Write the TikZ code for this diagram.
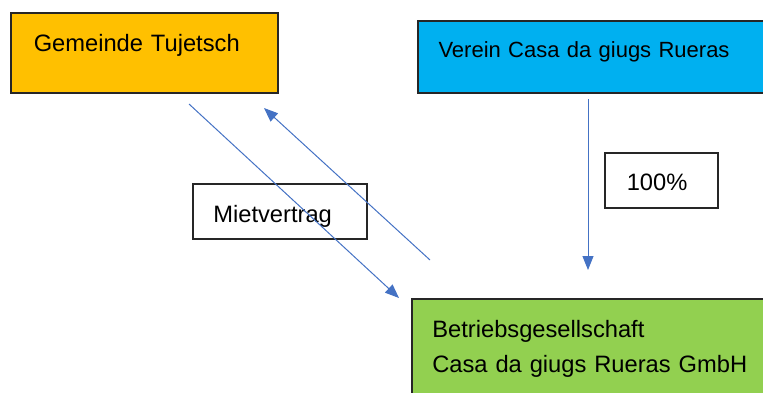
\documentclass[tikz,border=0pt]{standalone}
\usepackage{fontspec}
\setmainfont{Liberation Sans}
\usetikzlibrary{arrows.meta}
\definecolor{orangebox}{HTML}{FFC000}
\definecolor{bluebox}{HTML}{00B0F0}
\definecolor{greenbox}{HTML}{92D050}
\definecolor{arrowblue}{HTML}{4472C4}
\begin{document}
\begin{tikzpicture}[x=1pt,y=-1pt,
		box/.style={draw=black!85,line width=1.5pt,anchor=north west,align=left,inner ysep=0pt,font=\fontsize{23.7}{35}\selectfont},
		pfeil/.style={arrowblue,line width=1pt,-{Triangle[length=14pt,width=11pt]}}]
			\useasboundingbox (0,0) rectangle (763,392);
			\clip (0,0) rectangle (763,392);
			\node[box,fill=orangebox,inner xsep=23pt,text width=221pt,text height=39pt,text depth=41pt](gemeinde) at (10,12){Gemeinde Tujetsch};
			\node[box,fill=bluebox,line width=2pt,inner xsep=21pt,text width=322pt,text height=36pt,text depth=36pt,font=\fontsize{22}{30}\selectfont](verein) at (416.5,20){Verein Casa da giugs Rueras};
			\node[box,fill=greenbox,inner xsep=20.6pt,text width=330pt,text height=39pt,text depth=63pt](gmbh) at (411,298){Betriebsgesellschaft\\Casa da giugs Rueras GmbH};
			\node[box,inner xsep=20.6pt,text width=132.8pt,text height=38.7pt,text depth=16.3pt](miete) at (192,183){Mietvertrag};
			\node[box,inner xsep=22pt,text width=69pt,text height=38pt,text depth=17pt](anteil) at (604,152){100\%};
			\coordinate (miete1) at (189,104);
			\coordinate (miete2) at (399,298);
			\coordinate (zurueck1) at (430,260);
			\coordinate (zurueck2) at (264,108);
			\coordinate (anteil1) at (588,99);
			\coordinate (anteil2) at (588,270);
			\draw[pfeil](miete1)--(miete2);
			\draw[pfeil](zurueck1)--(zurueck2);
			\draw[pfeil](anteil1)--(anteil2);
		\end{tikzpicture}
\end{document}
